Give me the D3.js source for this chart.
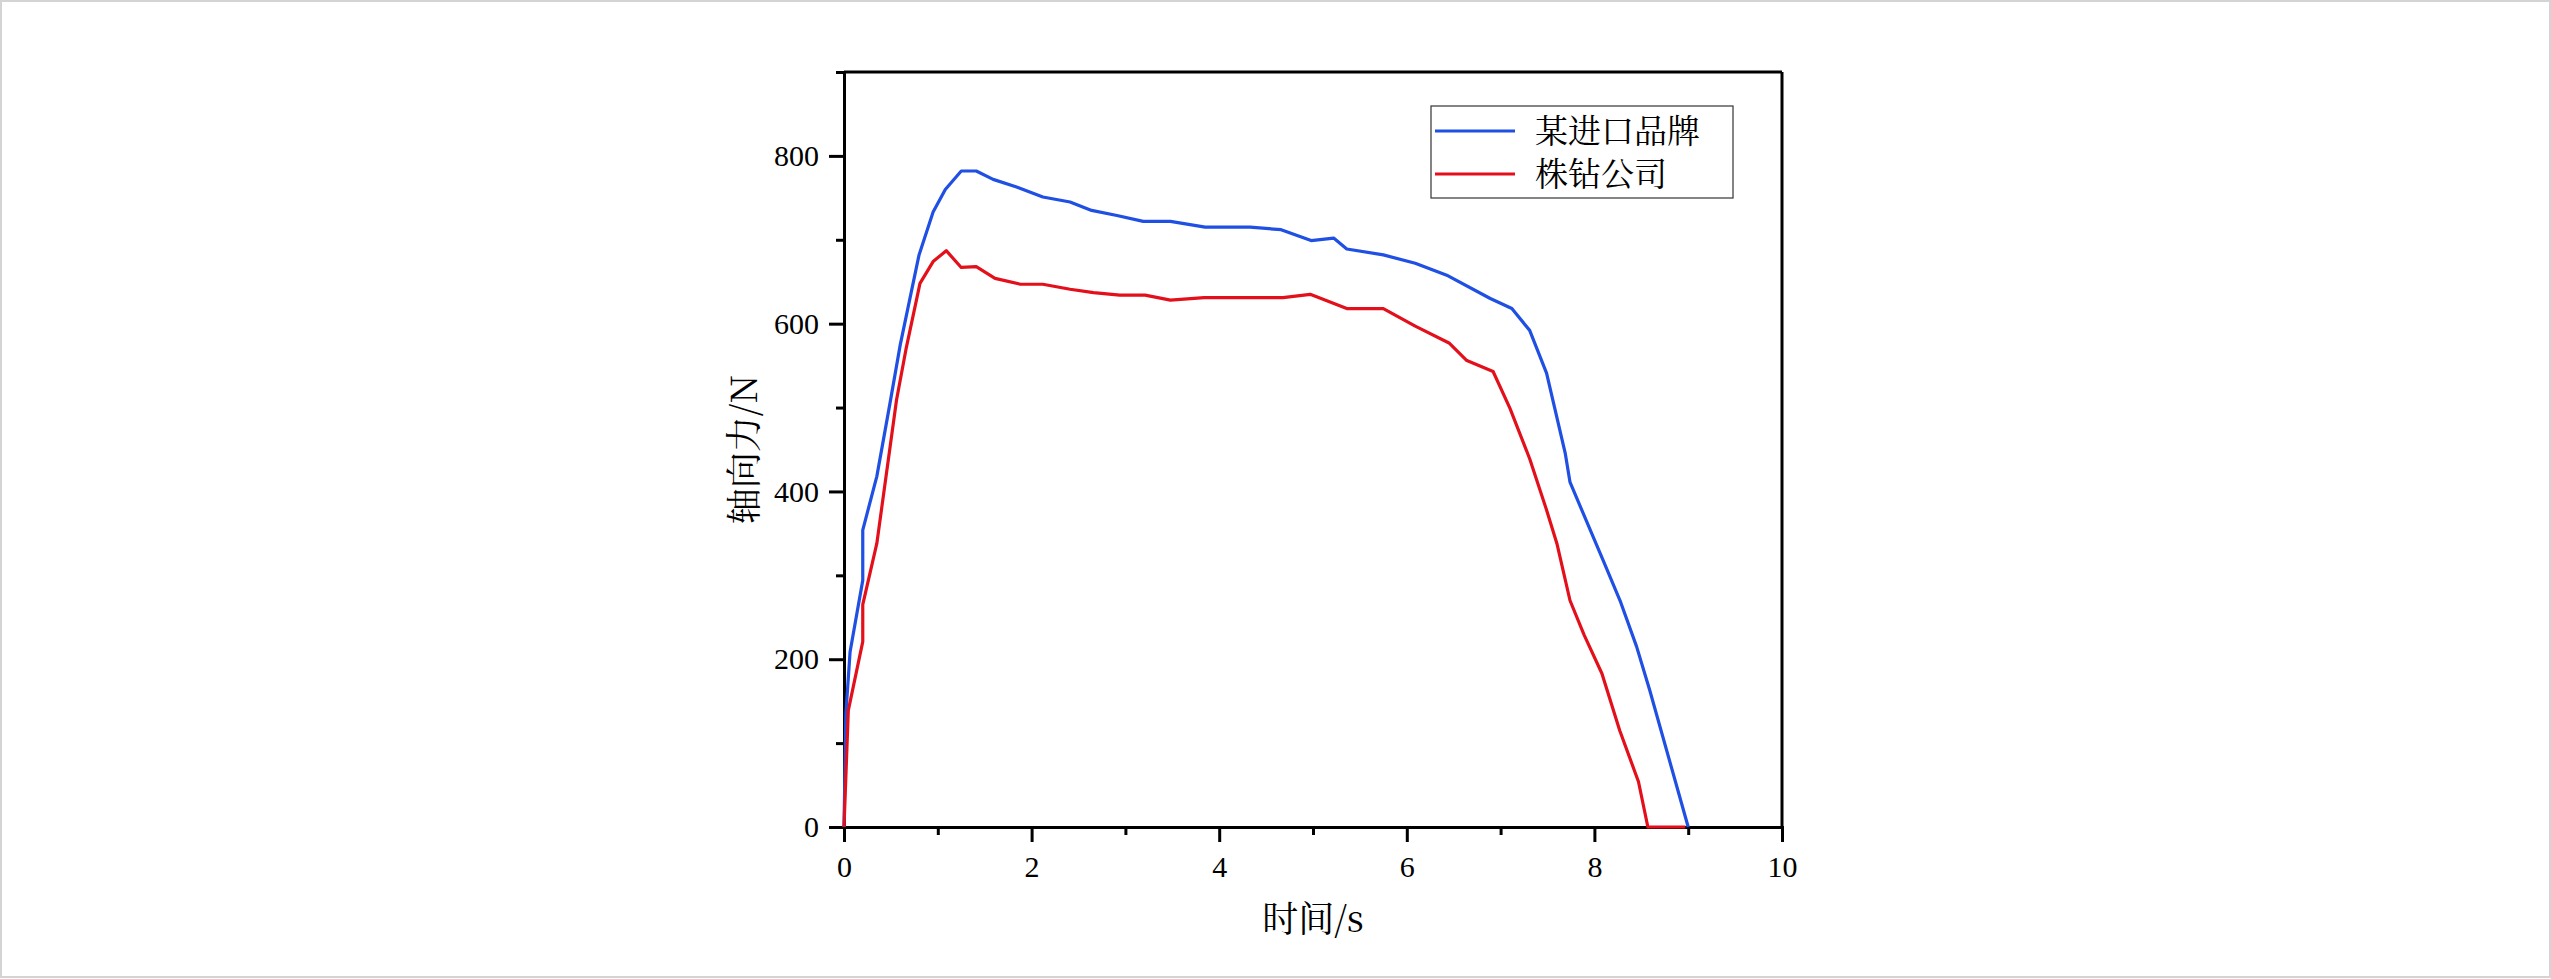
<!DOCTYPE html>
<html><head><meta charset="utf-8">
<script src="https://cdn.jsdelivr.net/npm/d3@7"></script>
<style>body{margin:0;background:#fff}svg{display:block}</style>
</head><body>
<script>
// Data (time s, axial force N)
const importTime = [0,0.02,0.065,0.2,0.2,0.35,0.49,0.6,0.8,0.95,1.08,1.25,1.41,1.59,1.84,2.12,2.41,2.64,2.91,3.19,3.48,3.85,4.33,4.66,4.98,5.22,5.36,5.75,6.09,6.44,6.89,7.12,7.31,7.49,7.69,7.74,8.10,8.28,8.45,8.59,9.0];
const importForce = [0,135,209,294,354,418,505,575,682,733,760,782,782,772,763,751,745,735,729,722,722,715,715,712,699,702,689,682,672,657,630,618,592,541,445,411,316,268,215,163,0];
const zzTime = [0,0.046,0.2,0.2,0.35,0.56,0.66,0.81,0.95,1.09,1.25,1.41,1.61,1.88,2.12,2.41,2.66,2.94,3.21,3.48,3.84,4.68,4.97,5.36,5.75,6.09,6.45,6.64,6.92,7.1,7.31,7.49,7.6,7.74,7.89,8.08,8.27,8.47,8.57,8.97];
const zzForce = [0,139,221,265,338,509,569,648,674,687,667,668,654,647,647,641,637,634,634,628,631,631,635,618,618,597,577,556,543,499,439,378,338,270,229,183,115,54,0,0];
const seriesNames = ["某进口品牌","株钻公司"];
const seriesColors = ["#1f4fe3","#e3101b"];
const xMajorTicks = [0,2,4,6,8,10];
const xMinorTicks = [1,3,5,7,9];
const yMajorTicks = [0,200,400,600,800];
const yMinorTicks = [100,300,500,700,900];
const xTitle = "时间/s";
const yTitle = "轴向力/N";

const W = 2551, H = 979;
const L = 844, R = 1782, T = 72, B = 827;
const svg = d3.select("body").append("svg").attr("width", W).attr("height", H);
svg.append("rect").attr("x",1).attr("y",1).attr("width",W-2).attr("height",H-3)
  .attr("fill","#fff").attr("stroke","#d4d4d4").attr("stroke-width",2);

const x = d3.scaleLinear().domain([0,10]).range([L,R]);
const y = d3.scaleLinear().domain([0,900]).range([B,T]);

const numFont = "'Liberation Serif','Times New Roman',serif";
const cjkFont = "'Noto Serif CJK SC','Noto Sans CJK SC',sans-serif";

// frame top/right
svg.append("line").attr("x1",L).attr("x2",R).attr("y1",T).attr("y2",T).attr("stroke","#000").attr("stroke-width",3);
svg.append("line").attr("x1",R).attr("x2",R).attr("y1",T).attr("y2",B).attr("stroke","#000").attr("stroke-width",3);

function styleAxis(g){
  g.select(".domain").attr("stroke","#000").attr("stroke-width",3);
  g.selectAll(".tick line").attr("stroke","#000").attr("stroke-width",3);
  g.selectAll("text").attr("font-family",numFont).attr("font-size",30).attr("fill","#000");
}
const gxMinor = svg.append("g").attr("transform",`translate(0,${B})`)
  .call(d3.axisBottom(x).tickValues(xMinorTicks).tickSize(8).tickFormat(""));
styleAxis(gxMinor); gxMinor.selectAll("text").remove();
const gx = svg.append("g").attr("transform",`translate(0,${B})`)
  .call(d3.axisBottom(x).tickValues(xMajorTicks).tickSize(15).tickSizeOuter(0).tickPadding(14).tickFormat(d3.format("d")));
styleAxis(gx);
const gyMinor = svg.append("g").attr("transform",`translate(${L},0)`)
  .call(d3.axisLeft(y).tickValues(yMinorTicks).tickSize(8).tickFormat(""));
styleAxis(gyMinor); gyMinor.selectAll("text").remove();
const gy = svg.append("g").attr("transform",`translate(${L},0)`)
  .call(d3.axisLeft(y).tickValues(yMajorTicks).tickSize(15).tickSizeOuter(0).tickPadding(10).tickFormat(d3.format("d")));
styleAxis(gy);

// lines
const series = [
  importTime.map((t,i)=>[t,importForce[i]]),
  zzTime.map((t,i)=>[t,zzForce[i]])
];
const line = d3.line().x(d=>x(d[0])).y(d=>y(d[1]));
series.forEach((s,i)=>{
  svg.append("path").datum(s).attr("d",line).attr("fill","none")
    .attr("stroke",seriesColors[i]).attr("stroke-width",3.2).attr("stroke-linejoin","round");
});

// axis titles
svg.append("text").attr("x",(L+R)/2).attr("y",932).attr("text-anchor","middle")
  .attr("font-family",cjkFont).attr("font-size",36).attr("fill","#000").text(xTitle);
svg.append("text").attr("transform",`translate(757,${(T+B)/2}) rotate(-90)`).attr("text-anchor","middle")
  .attr("font-family",cjkFont).attr("font-size",36).attr("fill","#000").text(yTitle);

// legend
const lg = svg.append("g");
lg.append("rect").attr("x",1431).attr("y",106).attr("width",302).attr("height",92)
  .attr("fill","#fff").attr("stroke","#333").attr("stroke-width",1.2);
seriesNames.forEach((n,i)=>{
  const yy = 131 + i*43;
  lg.append("line").attr("x1",1435).attr("x2",1515).attr("y1",yy).attr("y2",yy)
    .attr("stroke",seriesColors[i]).attr("stroke-width",3);
  lg.append("text").attr("x",1535).attr("y",yy).attr("dy","0.36em")
    .attr("font-family",cjkFont).attr("font-size",33).attr("fill","#000").text(n);
});
</script>
</body></html>
